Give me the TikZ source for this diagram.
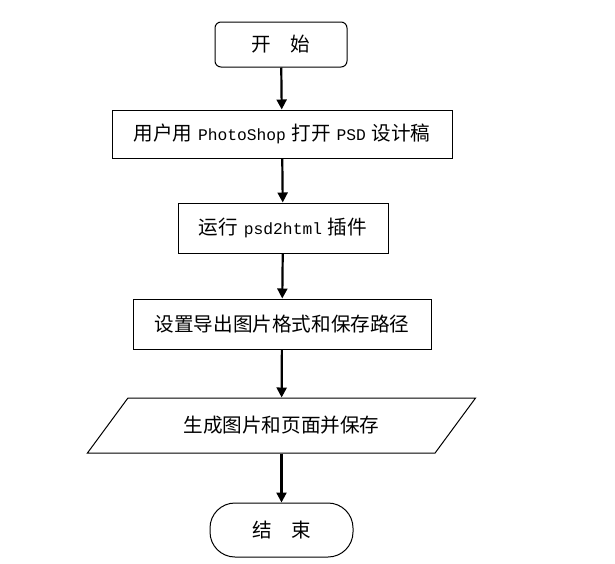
\documentclass[tikz,border=0pt]{standalone}
\usepackage{fontspec}
\setmainfont{Noto Sans CJK SC}
\newfontfamily\latin{Liberation Mono}[Scale=0.83]
\newcommand{\gap}{\hspace{5.8pt}}
\usetikzlibrary{arrows.meta,shapes.geometric}
\begin{document}
\begin{tikzpicture}[x=1pt,y=-1pt,
  every node/.style={font=\fontsize{19.6}{22}\selectfont, inner sep=0pt, line width=1pt},
  procbox/.style={draw, rectangle},
  termbox/.style={draw, rectangle},
  iobox/.style={draw, trapezium, trapezium left angle=35.2, trapezium right angle=144.8, trapezium stretches=true},
  flow/.style={line width=2.2pt, -{Triangle[length=10pt,width=10pt]}}]
\useasboundingbox (0,0) rectangle (615,563);
\node[termbox, rounded corners=6pt, minimum width=132pt, minimum height=45pt] (start) at (281,44.5) {开\hspace{1em}始};
\node[procbox, minimum width=340pt, minimum height=48pt] (s1) at (282,134) {用户用\gap{\latin PhotoShop}\gap 打开\gap{\latin PSD}\gap 设计稿\hspace{11pt}};
\node[procbox, minimum width=210pt, minimum height=50pt] (s2) at (283,228) {运行\gap{\latin psd2html}\gap 插件\hspace{11pt}};
\node[procbox, minimum width=298pt, minimum height=50pt] (s3) at (282,324) {设置导出图片格式和保存路径\hspace{7pt}};
\node[iobox, minimum width=389pt, minimum height=55pt] (s4) at (281.5,425.5) {生成图片和页面并保存\hspace{12pt}};
\node[termbox, rounded corners=25pt, minimum width=143pt, minimum height=54pt] (end) at (281.5,530) {结\hspace{1em}束};
\draw[flow] (start) -- (s1);
\draw[flow] (s1) -- (s2);
\draw[flow] (s2) -- (s3);
\draw[flow] (s3) -- (s4);
\draw[flow] (s4) -- (end);
\end{tikzpicture}
\end{document}
